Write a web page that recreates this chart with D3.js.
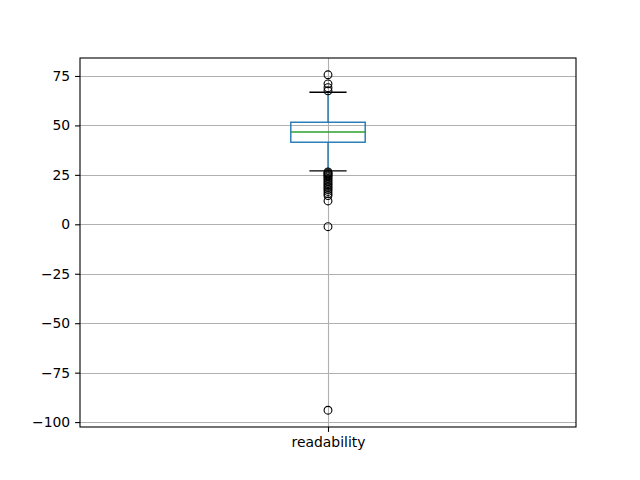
<!DOCTYPE html>
<html>
<head>
<meta charset="utf-8">
<script src="https://cdn.jsdelivr.net/npm/d3@7"></script>
<style>
body { margin: 0; background: #fff; }
svg text { font-family: "DejaVu Sans", sans-serif; }
</style>
</head>
<body>
<svg width="640" height="480"></svg>
<script>
// box statistics
var categories = ["readability"];
var q1 = [41.5], median = [46.7], q3 = [51.6];
var whiskLow = [27.0], whiskHigh = [66.8];
var fliers = [
  [75.6, 71.0, 69.1, 67.5,
   26.5, 26.0, 25.5, 25.0, 24.5, 24.0, 23.2, 22.4, 21.6, 20.8, 20.0, 19.2,
   18.4, 17.6, 16.6, 15.5, 14.5, 11.8, -1.2, -94.0]
];
var yTicks = [75, 50, 25, 0, -25, -50, -75, -100];

var svg = d3.select("svg");
var mLeft = 80, mRight = 576, mTop = 58, mBottom = 427;

var allVals = fliers[0].concat([whiskLow[0], whiskHigh[0]]);
var lo = d3.min(allVals), hi = d3.max(allVals), pad = (hi - lo) * 0.05;

var y = d3.scaleLinear().domain([lo - pad, hi + pad]).range([mBottom, mTop]);
var x = d3.scaleLinear().domain([0.5, categories.length + 0.5]).range([mLeft, mRight]);

// grid
var grid = svg.append("g");
grid.selectAll(".hg").data(yTicks).enter().append("line")
  .attr("x1", mLeft).attr("x2", mRight)
  .attr("y1", d => Math.round(y(d)) + 0.5).attr("y2", d => Math.round(y(d)) + 0.5)
  .attr("stroke", "#b0b0b0").attr("stroke-width", 1.1);
grid.selectAll(".vg").data(categories).enter().append("line")
  .attr("x1", (d, i) => Math.round(x(i + 1)) + 0.5).attr("x2", (d, i) => Math.round(x(i + 1)) + 0.5)
  .attr("y1", mTop).attr("y2", mBottom)
  .attr("stroke", "#b0b0b0").attr("stroke-width", 1.1);

var bw = (mRight - mLeft) * 0.15 / categories.length;
var boxes = svg.append("g").selectAll("g").data(categories).enter().append("g");

boxes.each(function(d, i) {
  var g = d3.select(this), cx = x(i + 1);
  g.append("line").attr("x1", cx).attr("x2", cx).attr("y1", y(q1[i])).attr("y2", y(whiskLow[i]))
    .attr("stroke", "#1f77b4").attr("stroke-width", 1.4);
  g.append("line").attr("x1", cx).attr("x2", cx).attr("y1", y(q3[i])).attr("y2", y(whiskHigh[i]))
    .attr("stroke", "#1f77b4").attr("stroke-width", 1.4);
  g.append("rect").attr("x", cx - bw / 2).attr("width", bw)
    .attr("y", y(q3[i])).attr("height", y(q1[i]) - y(q3[i]))
    .attr("fill", "none").attr("stroke", "#1f77b4").attr("stroke-width", 1.4);
  g.append("line").attr("x1", cx - bw / 2).attr("x2", cx + bw / 2).attr("y1", y(median[i])).attr("y2", y(median[i]))
    .attr("stroke", "#2ca02c").attr("stroke-width", 1.4);
  [whiskLow[i], whiskHigh[i]].forEach(function(v) {
    g.append("line").attr("x1", cx - bw / 4).attr("x2", cx + bw / 4).attr("y1", y(v)).attr("y2", y(v))
      .attr("stroke", "#000").attr("stroke-width", 1.4);
  });
  g.selectAll("circle").data(fliers[i]).enter().append("circle")
    .attr("cx", cx).attr("cy", v => y(v)).attr("r", 3.9)
    .attr("fill", "none").attr("stroke", "#000").attr("stroke-width", 1.1);
});

// axes
var yAxis = d3.axisLeft(y).tickValues(yTicks).tickSize(4.9).tickPadding(4.9)
  .tickFormat(d => d < 0 ? "\u2212" + Math.abs(d) : d);
var ya = svg.append("g").attr("transform", "translate(" + mLeft + ",0)").call(yAxis);
var xAxis = d3.axisBottom(x).tickValues(d3.range(1, categories.length + 1)).tickSize(4.9).tickPadding(4.9)
  .tickFormat(d => categories[d - 1]);
var xa = svg.append("g").attr("transform", "translate(0," + mBottom + ")").call(xAxis);
[ya, xa].forEach(function(a) {
  a.select(".domain").remove();
  a.selectAll("text").attr("font-size", "13.9px").attr("fill", "#000");
  a.selectAll("line").attr("stroke", "#000").attr("stroke-width", 1.1);
});

svg.append("rect").attr("x", mLeft).attr("y", mTop)
  .attr("width", mRight - mLeft).attr("height", mBottom - mTop)
  .attr("fill", "none").attr("stroke", "#000").attr("stroke-width", 1.1);
</script>
</body>
</html>
